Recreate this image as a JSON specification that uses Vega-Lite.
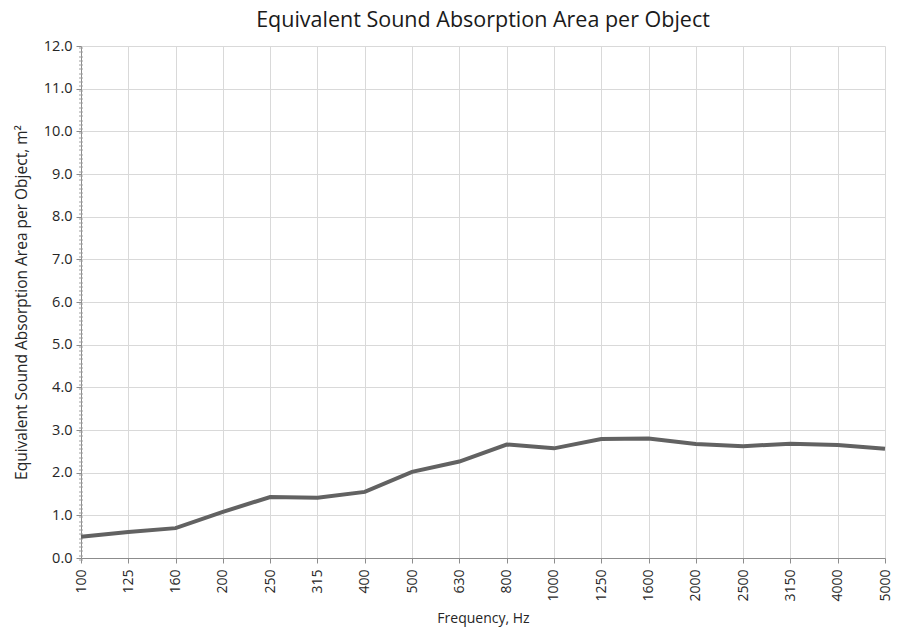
{
  "$schema": "https://vega.github.io/schema/vega-lite/v6.json",
  "width": 804,
  "height": 512,
  "autosize": {"type": "none"},
  "padding": {"left": 81, "top": 46, "right": 18, "bottom": 72},
  "background": "white",
  "config": {
    "view": {"stroke": null},
    "font": "Open Sans",
    "axis": {"labelFont": "Open Sans", "titleFont": "Open Sans", "labelColor": "#262626", "titleColor": "#262626", "titleFontWeight": "normal"}
  },
  "title": {"text": "Equivalent Sound Absorption Area per Object", "fontSize": 21.5, "fontWeight": "normal", "font": "Open Sans", "color": "#1a1a1a", "offset": 7, "anchor": "middle"},
  "data": {"values": [
    {"f": "100", "a": 0.50},
    {"f": "125", "a": 0.61},
    {"f": "160", "a": 0.70},
    {"f": "200", "a": 1.08},
    {"f": "250", "a": 1.43},
    {"f": "315", "a": 1.41},
    {"f": "400", "a": 1.55},
    {"f": "500", "a": 2.02},
    {"f": "630", "a": 2.26},
    {"f": "800", "a": 2.66},
    {"f": "1000", "a": 2.57},
    {"f": "1250", "a": 2.79},
    {"f": "1600", "a": 2.80},
    {"f": "2000", "a": 2.67},
    {"f": "2500", "a": 2.62},
    {"f": "3150", "a": 2.68},
    {"f": "4000", "a": 2.65},
    {"f": "5000", "a": 2.56}
  ]},
  "layer": [
    {
      "mark": {"type": "line", "color": "#626262", "strokeWidth": 4},
      "encoding": {
        "x": {"field": "f", "type": "ordinal", "sort": null, "scale": {"type": "point", "padding": 0},
          "axis": {"title": "Frequency, Hz", "titleFontSize": 14, "labelFontSize": 14, "labelAngle": -90, "labelBaseline": "middle", "labelAlign": "right", "labelPadding": 6, "grid": true, "gridColor": "#d9d9d9", "domainColor": "#8c8c8c", "tickColor": "#8c8c8c", "tickSize": 5, "titlePadding": 10}},
        "y": {"field": "a", "type": "quantitative", "scale": {"domain": [0, 12], "nice": false},
          "axis": {"title": "Equivalent Sound Absorption Area per Object, m²", "titleFontSize": 15.5, "labelFontSize": 14.5, "format": ".1f", "values": [0,1,2,3,4,5,6,7,8,9,10,11,12], "grid": true, "gridColor": "#d9d9d9", "domainColor": "#8c8c8c", "tickColor": "#8c8c8c", "tickSize": 5, "labelPadding": 4, "titlePadding": 14}}
      }
    },
    {
      "mark": {"type": "line", "opacity": 0},
      "encoding": {
        "x": {"field": "f", "type": "ordinal", "sort": null},
        "y": {"field": "a", "type": "quantitative", "axis": {"orient": "left", "title": null, "labels": false, "grid": false, "domain": false, "tickCount": 120, "tickSize": 4, "tickOffset": 0, "translate": 2, "tickColor": "#a0a0a0", "tickWidth": 1}}
      }
    }
  ],
  "resolve": {"axis": {"y": "independent"}}
}
